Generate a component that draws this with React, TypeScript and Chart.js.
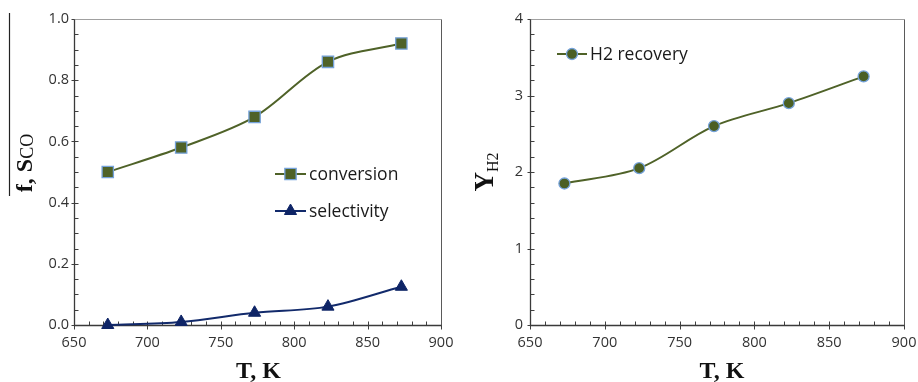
import React, { useEffect, useRef } from "react";
import { Chart, registerables } from "chart.js";

Chart.register(...registerables);

// Reaction temperature, K
const temperatureK = [673, 723, 773, 823, 873];
// CO conversion and selectivity (left panel)
const conversion = [0.5, 0.58, 0.68, 0.86, 0.92];
const selectivity = [0.0, 0.01, 0.04, 0.06, 0.125];
// Hydrogen recovery (right panel)
const h2Recovery = [1.85, 2.05, 2.6, 2.9, 3.25];

// Axis ranges and tick steps
const xRange = [650, 900];
const xMajorStep = 50;
const xMinorStep = 10;
const leftYRange = [0, 1];
const leftYMajorStep = 0.2;
const leftYMinorStep = 0.05;
const rightYRange = [0, 4];
const rightYMajorStep = 1;
const rightYMinorStep = 0.2;

const OLIVE = "#4f6228";
const NAVY = "#122a6b";
const MARKER_EDGE = "#75a2da";
const TICK_FONT = { family: "'Open Sans', sans-serif", size: 14.5 };
const SERIF = "'Liberation Serif', 'Times New Roman', serif";

type Piece = { text: string; font: string; dy: number };

function drawMarker(
  ctx: CanvasRenderingContext2D,
  style: string,
  x: number,
  y: number,
  r: number,
  fill: string,
  stroke: string,
  bw: number
) {
  ctx.save();
  ctx.beginPath();
  if (style === "rect") {
    const s = Math.SQRT1_2 * r;
    ctx.rect(x - s, y - s, 2 * s, 2 * s);
  } else if (style === "triangle") {
    let rad = 0;
    ctx.moveTo(x + Math.sin(rad) * r, y - Math.cos(rad) * r);
    rad += (2 * Math.PI) / 3;
    ctx.lineTo(x + Math.sin(rad) * r, y - Math.cos(rad) * r);
    rad += (2 * Math.PI) / 3;
    ctx.lineTo(x + Math.sin(rad) * r, y - Math.cos(rad) * r);
    ctx.closePath();
  } else {
    ctx.arc(x, y, r, 0, Math.PI * 2);
  }
  ctx.fillStyle = fill;
  ctx.fill();
  ctx.lineWidth = bw;
  ctx.strokeStyle = stroke;
  ctx.stroke();
  ctx.restore();
}

function drawPieces(
  ctx: CanvasRenderingContext2D,
  pieces: Piece[],
  cx: number,
  cy: number,
  rotate: boolean
) {
  ctx.save();
  ctx.translate(cx, cy);
  if (rotate) ctx.rotate(-Math.PI / 2);
  ctx.textBaseline = "alphabetic";
  ctx.textAlign = "left";
  ctx.fillStyle = "#111";
  let total = 0;
  for (const p of pieces) {
    ctx.font = p.font;
    total += ctx.measureText(p.text).width;
  }
  let x = -total / 2;
  for (const p of pieces) {
    ctx.font = p.font;
    ctx.fillText(p.text, x, p.dy);
    x += ctx.measureText(p.text).width;
  }
  ctx.restore();
}

// Plot frame with inward minor ticks and crossing major ticks
const frameTicks = {
  id: "frameTicks",
  beforeDatasetsDraw(chart: any, _args: any, opts: any) {
    const { ctx, chartArea: a, scales } = chart;
    const x = scales.x;
    const y = scales.y;
    ctx.save();
    ctx.strokeStyle = "#3f3f3f";
    ctx.lineWidth = 1;
    const bottom = Math.round(a.bottom) + 0.5;
    const left = Math.round(a.left) + 0.5;

    const nx = Math.round((x.max - x.min) / opts.xMinor);
    const perX = Math.round(opts.xMajor / opts.xMinor);
    for (let i = 0; i <= nx; i++) {
      const px = Math.round(x.getPixelForValue(x.min + i * opts.xMinor)) + 0.5;
      const major = i % perX === 0;
      ctx.beginPath();
      ctx.moveTo(px, bottom - 4);
      ctx.lineTo(px, major ? bottom + 4 : bottom);
      ctx.stroke();
    }
    const ny = Math.round((y.max - y.min) / opts.yMinor);
    const perY = Math.round(opts.yMajor / opts.yMinor);
    for (let i = 0; i <= ny; i++) {
      const py = Math.round(y.getPixelForValue(y.min + i * opts.yMinor)) + 0.5;
      const major = i % perY === 0;
      ctx.beginPath();
      ctx.moveTo(major ? left - 3 : left, py);
      ctx.lineTo(left + 4, py);
      ctx.stroke();
    }

    const top = Math.round(a.top) + 0.5;
    const right = Math.round(a.right) + 0.5;
    ctx.strokeStyle = "#a0a0a0";
    ctx.beginPath();
    ctx.moveTo(left, top);
    ctx.lineTo(right, top);
    ctx.stroke();
    ctx.strokeStyle = "#5a5a5a";
    ctx.beginPath();
    ctx.moveTo(right, top);
    ctx.lineTo(right, bottom);
    ctx.stroke();
    ctx.strokeStyle = "#3a3a3a";
    ctx.lineWidth = 1.3;
    ctx.beginPath();
    ctx.moveTo(left, top);
    ctx.lineTo(left, bottom);
    ctx.lineTo(right, bottom);
    ctx.stroke();
    ctx.restore();
  },
};

// Axis titles with subscripts, and the in-plot legend
const decorations = {
  id: "decorations",
  afterDraw(chart: any, _args: any, opts: any) {
    const { ctx, chartArea: a } = chart;
    drawPieces(
      ctx,
      [{ text: "T, K", font: `bold 24px ${SERIF}`, dy: 0 }],
      (a.left + a.right) / 2 + opts.xTitleShift,
      opts.xTitleBaseline,
      false
    );
    drawPieces(ctx, opts.yTitle, opts.yTitleX, opts.yTitleY, true);
    if (opts.overline) {
      ctx.save();
      ctx.strokeStyle = "#222";
      ctx.lineWidth = 1.2;
      ctx.beginPath();
      ctx.moveTo(opts.overline[0], opts.overline[1]);
      ctx.lineTo(opts.overline[0], opts.overline[2]);
      ctx.stroke();
      ctx.restore();
    }

    const L = opts.legend;
    chart.data.datasets.forEach((ds: any, i: number) => {
      const cy = L.y + i * L.gap;
      ctx.save();
      ctx.strokeStyle = ds.borderColor;
      ctx.lineWidth = ds.borderWidth;
      ctx.beginPath();
      ctx.moveTo(L.x0, cy);
      ctx.lineTo(L.x1, cy);
      ctx.stroke();
      ctx.restore();
      drawMarker(
        ctx,
        ds.pointStyle,
        (L.x0 + L.x1) / 2,
        cy,
        ds.pointRadius,
        ds.pointBackgroundColor,
        ds.pointBorderColor,
        ds.pointBorderWidth
      );
      ctx.save();
      ctx.font = "17.5px 'Open Sans', sans-serif";
      ctx.fillStyle = "#1a1a1a";
      ctx.textBaseline = "middle";
      ctx.fillText(ds.label, L.x1 + 3, cy + 1);
      ctx.restore();
    });
  },
};

function series(label: string, values: number[], style: any) {
  return {
    label,
    data: temperatureK.map((t, i) => ({ x: t, y: values[i] })),
    borderWidth: 2,
    tension: 0.33,
    clip: false,
    ...style,
  };
}

function makeConfig(p: any) {
  return {
    type: "line",
    data: { datasets: p.datasets },
    options: {
      responsive: false,
      animation: false,
      layout: { padding: { left: 0, right: p.padRight, top: 19, bottom: 0 } },
      plugins: {
        legend: { display: false },
        tooltip: { enabled: false },
        frameTicks: {
          xMajor: xMajorStep,
          xMinor: xMinorStep,
          yMajor: p.yMajor,
          yMinor: p.yMinor,
        },
        decorations: p.decorations,
      },
      scales: {
        x: {
          type: "linear",
          min: xRange[0],
          max: xRange[1],
          ticks: { stepSize: xMajorStep, padding: 9, font: TICK_FONT, color: "#333" },
          grid: { display: false, drawTicks: false },
          border: { display: false },
          afterFit: (s: any) => {
            s.height = 57;
            s.paddingLeft = 0;
            s.paddingRight = 0;
          },
        },
        y: {
          type: "linear",
          min: p.yRange[0],
          max: p.yRange[1],
          ticks: {
            stepSize: p.yMajor,
            padding: p.yPad,
            font: TICK_FONT,
            color: "#333",
            callback: p.yFormat,
          },
          grid: { display: false, drawTicks: false },
          border: { display: false },
          afterFit: (s: any) => {
            s.width = p.yWidth;
            s.paddingTop = 0;
            s.paddingBottom = 0;
          },
        },
      },
    },
    plugins: [frameTicks, decorations],
  } as any;
}

function Panel({ config, left }: { config: any; left: number }) {
  const ref = useRef<HTMLCanvasElement>(null);
  useEffect(() => {
    const chart = new Chart(ref.current as HTMLCanvasElement, config);
    return () => chart.destroy();
  }, [config]);
  return (
    <canvas
      ref={ref}
      width={459}
      height={382}
      style={{ position: "absolute", left, top: 0, width: 459, height: 382 }}
    />
  );
}

const leftConfig = makeConfig({
  yRange: leftYRange,
  yMajor: leftYMajorStep,
  yMinor: leftYMinorStep,
  yFormat: (v: number) => v.toFixed(1),
  yWidth: 74,
  yPad: 5,
  padRight: 18,
  datasets: [
    series("conversion", conversion, {
      borderColor: OLIVE,
      pointStyle: "rect",
      pointRadius: 8,
      pointBackgroundColor: "#4f6228",
      pointBorderColor: MARKER_EDGE,
      pointBorderWidth: 1.3,
    }),
    series("selectivity", selectivity, {
      borderColor: NAVY,
      pointStyle: "triangle",
      pointRadius: 7,
      pointBackgroundColor: "#0e2466",
      pointBorderColor: "#0e2466",
      pointBorderWidth: 1,
    }),
  ],
  decorations: {
    xTitleShift: 1,
    xTitleBaseline: 378,
    yTitle: [
      { text: "f, S", font: `bold 24px ${SERIF}`, dy: 0 },
      { text: "CO", font: `18px ${SERIF}`, dy: 1 },
    ],
    yTitleX: 32,
    yTitleY: 163,
    overline: [9.5, 13, 196],
    legend: { x0: 275, x1: 306, y: 174, gap: 37 },
  },
});

const rightConfig = makeConfig({
  yRange: rightYRange,
  yMajor: rightYMajorStep,
  yMinor: rightYMinorStep,
  yFormat: (v: number) => String(v),
  yWidth: 71,
  yPad: 7,
  padRight: 14,
  datasets: [
    series("H2 recovery", h2Recovery, {
      borderColor: OLIVE,
      pointStyle: "circle",
      pointRadius: 5.5,
      pointBackgroundColor: "#4b5f23",
      pointBorderColor: MARKER_EDGE,
      pointBorderWidth: 1.3,
    }),
  ],
  decorations: {
    xTitleShift: 5,
    xTitleBaseline: 378,
    yTitle: [
      { text: "Y", font: `bold 27px ${SERIF}`, dy: 0 },
      { text: "H2", font: `16px ${SERIF}`, dy: 5 },
    ],
    yTitleX: 493 - 459,
    yTitleY: 172,
    overline: null,
    legend: { x0: 98, x1: 128, y: 54, gap: 37 },
  },
});

export default function App() {
  return (
    <div
      style={{
        position: "fixed",
        left: 0,
        top: 0,
        width: 918,
        height: 382,
        background: "#fff",
      }}
    >
      <Panel config={leftConfig} left={0} />
      <Panel config={rightConfig} left={459} />
    </div>
  );
}
